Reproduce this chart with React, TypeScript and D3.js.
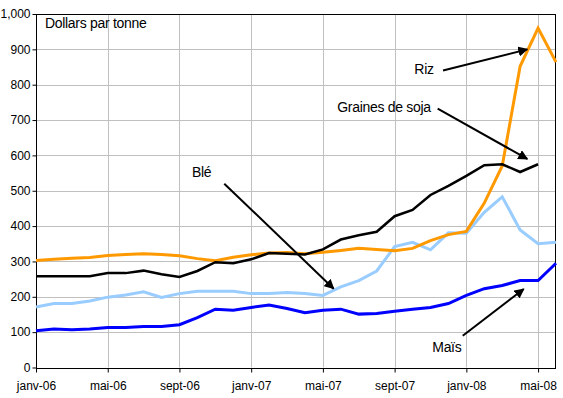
import React, { useEffect, useRef } from "react";
import * as d3 from "d3";

// months from janv-06 to juin-08
const months = [
  "janv-06", "févr-06", "mars-06", "avr-06", "mai-06", "juin-06", "juil-06", "août-06",
  "sept-06", "oct-06", "nov-06", "déc-06", "janv-07", "févr-07", "mars-07", "avr-07",
  "mai-07", "juin-07", "juil-07", "août-07", "sept-07", "oct-07", "nov-07", "déc-07",
  "janv-08", "févr-08", "mars-08", "avr-08", "mai-08", "juin-08",
];
const tickMonths = ["janv-06", "mai-06", "sept-06", "janv-07", "mai-07", "sept-07", "janv-08", "mai-08"];
const yTicks = [0, 100, 200, 300, 400, 500, 600, 700, 800, 900, 1000];

const riz = [303, 306, 309, 311, 317, 320, 322, 320, 316, 308, 302, 312, 319, 324, 325, 322,
  326, 331, 337, 334, 330, 337, 359, 376, 385, 465, 570, 852, 960, 864];
const soja = [258, 258, 258, 258, 267, 267, 274, 264, 256, 273, 298, 295, 306, 324, 322, 320,
  334, 362, 374, 384, 428, 446, 488, 514, 542, 572, 575, 553, 575];
const ble = [171, 181, 181, 188, 199, 205, 214, 198, 209, 216, 216, 216, 209, 209, 212, 209,
  204, 228, 246, 273, 342, 354, 333, 381, 380, 439, 483, 389, 350, 354];
const mais = [104, 109, 107, 109, 113, 113, 116, 116, 121, 141, 165, 162, 170, 177, 167, 155,
  162, 165, 151, 153, 159, 165, 170, 181, 204, 223, 232, 246, 246, 295];

const series = [
  { name: "Blé", values: ble, color: "#99ccff", width: 3 },
  { name: "Maïs", values: mais, color: "#0000ff", width: 3 },
  { name: "Riz", values: riz, color: "#ff9900", width: 3 },
  { name: "Graines de soja", values: soja, color: "#000000", width: 2.5 },
];

// text label, text position, arrow from/to given as [month index, value]
const notes = [
  { text: "Dollars par tonne", at: [0.5, 960], from: null, to: null },
  { text: "Blé", at: [8.7, 540], from: [10.5, 520], to: [16.6, 223] },
  { text: "Riz", at: [21.1, 830], from: [22.7, 840], to: [27.4, 900] },
  { text: "Graines de soja", at: [16.8, 722], from: [22.4, 732], to: [27.4, 590] },
  { text: "Maïs", at: [22.1, 43], from: [23.8, 90], to: [27.2, 222] },
];

const App = () => {
  const ref = useRef<SVGSVGElement>(null);

  useEffect(() => {
    const width = 563;
    const height = 398;
    const marginLeft = 36;
    const marginRight = 7;
    const marginTop = 14;
    const marginBottom = 30.5;

    const x = d3
      .scaleLinear()
      .domain([0, months.length - 1])
      .range([marginLeft, width - marginRight]);
    const y = d3
      .scaleLinear()
      .domain([0, 1000])
      .range([height - marginBottom, marginTop]);

    const svg = d3
      .select(ref.current)
      .attr("width", width)
      .attr("height", height)
      .attr("viewBox", [0, 0, width, height])
      .style("font-family", "Arial, 'Liberation Sans', sans-serif");

    svg.selectAll("*").remove();

    svg.append("rect").attr("width", width).attr("height", height).attr("fill", "#fff");

    const defs = svg.append("defs");
    defs
      .append("marker")
      .attr("id", "arrow")
      .attr("viewBox", "0 0 10 10")
      .attr("refX", 9)
      .attr("refY", 5)
      .attr("markerWidth", 5)
      .attr("markerHeight", 5)
      .attr("orient", "auto")
      .append("path")
      .attr("d", "M0,0L10,5L0,10z")
      .attr("fill", "#000");

    // grid
    const tickIdx = tickMonths.map((m) => months.indexOf(m));
    svg
      .append("g")
      .selectAll("line")
      .data(yTicks.slice(1, -1))
      .join("line")
      .attr("x1", marginLeft)
      .attr("x2", width - marginRight)
      .attr("y1", (d) => Math.round(y(d)) + 0.5)
      .attr("y2", (d) => Math.round(y(d)) + 0.5)
      .attr("stroke", "#c0c0c0");
    svg
      .append("g")
      .selectAll("line")
      .data(tickIdx.slice(1))
      .join("line")
      .attr("x1", (d) => Math.round(x(d)) + 0.5)
      .attr("x2", (d) => Math.round(x(d)) + 0.5)
      .attr("y1", marginTop)
      .attr("y2", height - marginBottom)
      .attr("stroke", "#c0c0c0");

    // frame
    svg
      .append("rect")
      .attr("x", marginLeft + 0.5)
      .attr("y", Math.round(marginTop) + 0.5)
      .attr("width", width - marginLeft - marginRight - 1)
      .attr("height", Math.round(height - marginBottom) - Math.round(marginTop))
      .attr("fill", "none")
      .attr("stroke", "#000");

    // y axis
    svg
      .append("g")
      .attr("transform", `translate(${marginLeft + 0.5},0)`)
      .call(
        d3
          .axisLeft(y)
          .tickValues(yTicks)
          .tickSize(4)
          .tickPadding(2)
          .tickSizeOuter(0)
      )
      .call((g) => g.select(".domain").remove())
      .call((g) => g.selectAll("text").attr("font-size", 12).attr("fill", "#000").attr("font-family", "Arial, 'Liberation Sans', sans-serif"));

    // x axis
    svg
      .append("g")
      .attr("transform", `translate(0,${Math.round(height - marginBottom) + 0.5})`)
      .call(
        d3
          .axisBottom(x)
          .tickValues(tickIdx)
          .tickFormat((d) => months[d as number])
          .tickSize(4)
          .tickPadding(9)
          .tickSizeOuter(0)
      )
      .call((g) => g.select(".domain").remove())
      .call((g) => g.selectAll("text").attr("font-size", 12).attr("fill", "#000").attr("font-family", "Arial, 'Liberation Sans', sans-serif"));

    // lines
    const line = d3
      .line<number>()
      .x((_, i) => x(i))
      .y((d) => y(d));

    svg
      .append("g")
      .selectAll("path")
      .data(series)
      .join("path")
      .attr("fill", "none")
      .attr("stroke", (d) => d.color)
      .attr("stroke-width", (d) => d.width)
      .attr("stroke-linejoin", "miter")
      .attr("d", (d) => line(d.values));

    // annotations
    const ann = svg.append("g");
    ann
      .selectAll("text")
      .data(notes)
      .join("text")
      .attr("x", (d) => x(d.at[0]))
      .attr("y", (d) => y(d.at[1]))
      .attr("font-size", 14)
      .attr("letter-spacing", -0.3)
      .attr("fill", "#000")
      .text((d) => d.text);
    ann
      .selectAll("line")
      .data(notes.filter((d) => d.from))
      .join("line")
      .attr("x1", (d) => x(d.from![0]))
      .attr("y1", (d) => y(d.from![1]))
      .attr("x2", (d) => x(d.to![0]))
      .attr("y2", (d) => y(d.to![1]))
      .attr("stroke", "#000")
      .attr("stroke-width", 2)
      .attr("marker-end", "url(#arrow)");
  }, []);

  return (
    <div style={{ position: "absolute", left: 0, top: 0 }}>
      <svg ref={ref} style={{ display: "block" }}></svg>
    </div>
  );
};

export default App;
